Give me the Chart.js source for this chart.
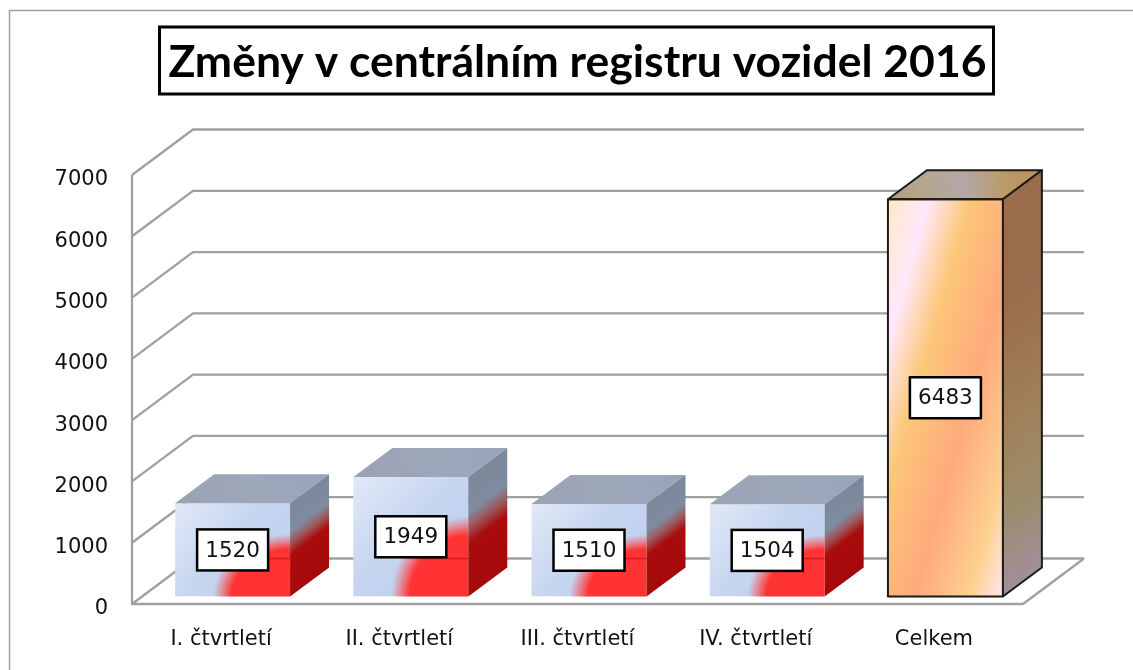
<!DOCTYPE html>
<html lang="cs">
<head>
<meta charset="utf-8">
<style>html,body{margin:0;padding:0;background:#fff}#w{width:1133px;height:670px;position:relative}</style>
<script src="https://cdn.jsdelivr.net/npm/chart.js@4"></script>
</head>
<body>
<div id="w"><canvas id="c" width="1133" height="670"></canvas></div>
<script>
const categories = ['I. čtvrtletí','II. čtvrtletí','III. čtvrtletí','IV. čtvrtletí','Celkem'];
const values = [1520,1949,1510,1504,6483];
const titleText = 'Změny v centrálním registru vozidel 2016';
const yTicks = [0,1000,2000,3000,4000,5000,6000,7000];

const WALL = {dx:61, dy:45.5};   // depth of the chart's back wall
const BAR  = {dx:39, dy:29};     // depth of a bar
const SHIFT = {x:11.5, y:-7.5};  // bars sit inside the floor
const GRID = '#a0a0a0';
const LABEL_FONT = '"DejaVu Sans"';

function stops(g, list){ list.forEach(s => g.addColorStop(s[0], s[1])); return g; }

function frontFill(ctx){
  const chart = ctx.chart;
  if(ctx.type !== 'data' || !chart.chartArea) return '#c5d4ee';
  const i = ctx.dataIndex, c = chart.ctx;
  const cat = chart.scales.x.getPixelForValue(i);
  const w = (chart.chartArea.width/categories.length)*0.645;
  const l = cat - w/2, t = chart.scales.y.getPixelForValue(values[i]), b = chart.scales.y.getPixelForValue(0);
  const h = b - t;
  if(i === categories.length-1){
    const dirx = .962, diry = .274, len = w*dirx + h*diry;
    return stops(c.createLinearGradient(l,t,l+len*dirx,t+len*diry),[
      [0,'#ffe9c6'],[.18,'#ffe8fb'],[.36,'#fcc778'],[.61,'#ffa97d'],[.85,'#fdd08f'],[1,'#ffe6ee']]);
  }
  return stops(c.createLinearGradient(l,t,l+w,b),[[0,'#e2e9f7'],[.45,'#c6d5ef'],[1,'#bccfee']]);
}

const plugin3d = {
  id:'plugin3d',
  beforeDraw(chart){
    const c = chart.ctx;
    c.save();
    c.fillStyle='#fff'; c.fillRect(0,0,chart.width,chart.height);
    // outer frame
    c.strokeStyle='#a0a0a0'; c.lineWidth=1.5;
    c.beginPath(); c.moveTo(9.5,chart.height); c.lineTo(9.5,10.5); c.lineTo(chart.width,10.5); c.stroke();
    // title box
    const tb = chart.titleBlock;
    const cx = tb.left + tb.width/2 - 1;
    c.fillStyle='#fff'; c.strokeStyle='#000'; c.lineWidth=3;
    c.fillRect(cx-417,27,834,67); c.strokeRect(cx-417,27,834,67);
    c.restore();
  },
  beforeDatasetsDraw(chart){
    const c = chart.ctx, a = chart.chartArea, y = chart.scales.y;
    c.save();
    c.strokeStyle=GRID; c.lineWidth=2.3; c.lineJoin='miter';
    yTicks.forEach(v=>{
      const p = y.getPixelForValue(v);
      c.beginPath(); c.moveTo(a.left,p); c.lineTo(a.left+WALL.dx,p-WALL.dy); c.lineTo(a.right+WALL.dx,p-WALL.dy); c.stroke();
    });
    const t = y.getPixelForValue(yTicks[yTicks.length-1]), b = y.getPixelForValue(0);
    c.beginPath(); c.moveTo(a.left,t); c.lineTo(a.left,b); c.lineTo(a.right,b); c.lineTo(a.right+WALL.dx,b-WALL.dy); c.stroke();
    c.restore();
    c.save();
    c.translate(SHIFT.x,SHIFT.y);
  },
  afterDatasetsDraw(chart){
    const c = chart.ctx, meta = chart.getDatasetMeta(0), y0 = chart.scales.y.getPixelForValue(0);
    meta.data.forEach((el,i)=>{
      const w = el.width, l = el.x-w/2, r = el.x+w/2, t = el.y, b = el.base, h = b-t;
      const last = i === categories.length-1;
      // top face
      c.beginPath(); c.moveTo(l,t); c.lineTo(l+BAR.dx,t-BAR.dy); c.lineTo(r+BAR.dx,t-BAR.dy); c.lineTo(r,t); c.closePath();
      c.fillStyle = last
        ? stops(c.createLinearGradient(l,t,r+BAR.dx,t-BAR.dy),[[0,'#b0a17f'],[.25,'#b5a68e'],[.5,'#b4a7a8'],[.75,'#bb9a66'],[1,'#b98f5e']])
        : stops(c.createLinearGradient(l,t,r+BAR.dx,t-BAR.dy),[[0,'#9aa2b2'],[.5,'#9da7ba'],[1,'#98a4ba']]);
      c.fill();
      if(last){ c.strokeStyle='#1a1a1a'; c.lineWidth=2; c.lineJoin='round'; c.stroke(); }
      // side face, sheared so the colour bands follow the depth
      c.save();
      c.transform(1,-BAR.dy/BAR.dx,0,1,r,0);
      c.fillStyle = last
        ? stops(c.createLinearGradient(0,t,0,b),[[0,'#9b6c4a'],[.25,'#9a6b4c'],[.6,'#a0825d'],[.8,'#9c8c6b'],[1,'#a18f9c']])
        : stops(c.createLinearGradient(0,t,0,b),[[0,'#7c8799'],[.3,'#7f8ba0'],[.42,'#9c5a5e'],[.56,'#a90c0c'],[1,'#a50a0a']]);
      c.fillRect(0,t,BAR.dx,h);
      c.restore();
      if(last){
        c.beginPath(); c.moveTo(r,t); c.lineTo(r+BAR.dx,t-BAR.dy); c.lineTo(r+BAR.dx,b-BAR.dy); c.lineTo(r,b);
        c.strokeStyle='#1a1a1a'; c.lineWidth=2; c.stroke();
        c.strokeRect(l,t,w,h);
      } else {
        // red glow rising from the lower right corner of the front face
        c.save();
        c.beginPath(); c.rect(l,t,w,h); c.clip();
        c.translate(r,b); c.scale(w*.67,h*.67);
        c.fillStyle = stops(c.createRadialGradient(0,0,0,0,0,1),[[0,'#ff3333'],[.76,'#ff3333'],[1,'rgba(255,70,70,0)']]);
        c.fillRect(-1.6,-1.6,1.7,1.7);
        c.restore();
        // back floor line faintly seen through the red
        const ly = y0 - WALL.dy - SHIFT.y;
        const g = c.createLinearGradient(r-w*.62,0,r-w*.35,0);
        g.addColorStop(0,'rgba(150,0,0,0)'); g.addColorStop(1,'rgba(150,0,0,.45)');
        c.strokeStyle=g; c.lineWidth=1.5;
        c.beginPath(); c.moveTo(r-w*.62,ly); c.lineTo(r,ly); c.stroke();
      }
      // value box
      const bw = 71, bh = 41, mx = el.x, my = t+h/2;
      c.fillStyle='#fff'; c.strokeStyle='#000'; c.lineWidth=2.5;
      c.fillRect(mx-bw/2,my-bh/2,bw,bh); c.strokeRect(mx-bw/2,my-bh/2,bw,bh);
      c.fillStyle='#111'; c.font='21.5px '+LABEL_FONT; c.textAlign='center'; c.textBaseline='middle';
      c.fillText(String(values[i]),mx,my+1);
    });
    c.restore();
  }
};

new Chart(document.getElementById('c'),{
  type:'bar',
  data:{labels:categories,datasets:[{data:values,backgroundColor:frontFill,borderWidth:0,barPercentage:.645,categoryPercentage:1}]},
  options:{
    responsive:false,animation:false,
    layout:{padding:{left:0,right:110,top:0,bottom:0}},
    plugins:{
      legend:{display:false},tooltip:{enabled:false},
      title:{display:true,text:titleText,fullSize:false,color:'#000',font:{family:'Lato',weight:'bold',size:44.5,lineHeight:1},padding:{top:40,bottom:90.5}}
    },
    scales:{
      x:{grid:{display:false},border:{display:false},
        afterFit(s){s.height=66;},
        ticks:{color:'#111',font:{family:LABEL_FONT,size:21},padding:15,maxRotation:0}},
      y:{min:0,max:7000,grid:{display:false},border:{display:false},
        afterFit(s){s.width=132;},
        afterBuildTicks(s){s.ticks=yTicks.map(v=>({value:v}));},
        ticks:{color:'#111',font:{family:LABEL_FONT,size:21},padding:16,labelOffset:5,callback:v=>String(v)}}
    }
  },
  plugins:[plugin3d]
});
</script>
</body>
</html>
